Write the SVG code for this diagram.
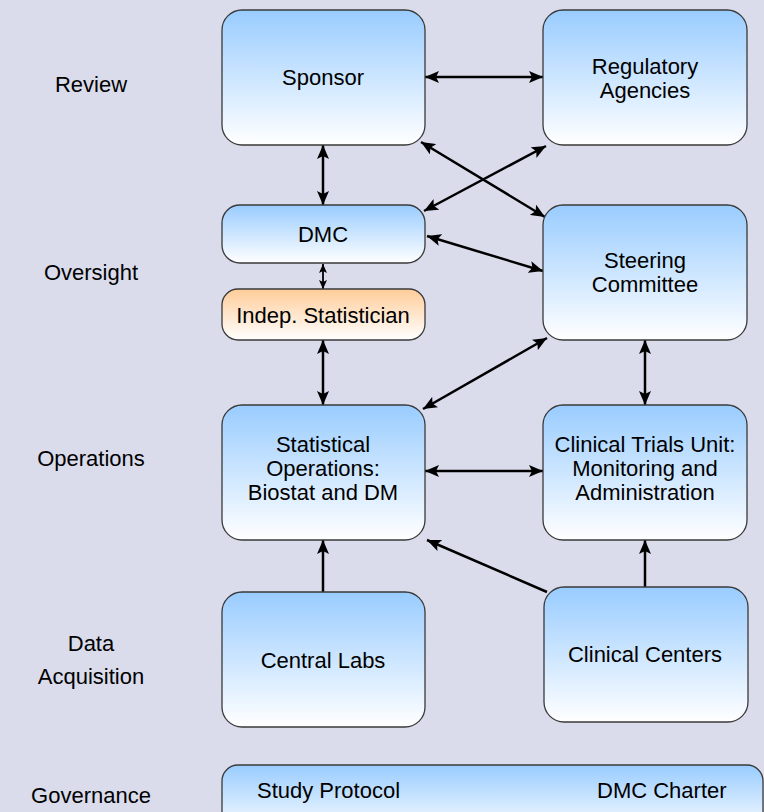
<svg xmlns="http://www.w3.org/2000/svg" width="764" height="812" viewBox="0 0 764 812">
  <defs>
    <linearGradient id="gBlue" x1="0" y1="0" x2="0" y2="1">
      <stop offset="0" stop-color="#99ccff"/>
      <stop offset="1" stop-color="#ffffff"/>
    </linearGradient>
    <linearGradient id="gOrange" x1="0" y1="0" x2="0" y2="1">
      <stop offset="0" stop-color="#ffcc99"/>
      <stop offset="1" stop-color="#ffffff"/>
    </linearGradient>
    <marker id="head" viewBox="0 0 14 12" refX="14" refY="6" markerWidth="14" markerHeight="12" markerUnits="userSpaceOnUse" orient="auto-start-reverse">
      <path d="M0,0 L14,6 L0,12 L3,6 z" fill="#000"/>
    </marker>
    <marker id="headSmall" viewBox="0 0 9 8" refX="9" refY="4" markerWidth="9" markerHeight="8" markerUnits="userSpaceOnUse" orient="auto-start-reverse">
      <path d="M0,0 L9,4 L0,8 L2,4 z" fill="#000"/>
    </marker>
  </defs>
  <style>
    .bg { fill: #dadcec; }
    .box { fill: url(#gBlue); stroke: #3a3a3a; stroke-width: 1.3; }
    .boxO { fill: url(#gOrange); stroke: #3a3a3a; stroke-width: 1.3; }
    text { font-family: "Liberation Sans", Arial, sans-serif; font-size: 22px; fill: #000; }
    .c { text-anchor: middle; dominant-baseline: central; }
    .link { stroke: #000; stroke-width: 2.5; fill: none; marker-start: url(#head); marker-end: url(#head); }
    .one { stroke: #000; stroke-width: 2.5; fill: none; marker-end: url(#head); }
    .small { stroke: #000; stroke-width: 1.8; fill: none; marker-start: url(#headSmall); marker-end: url(#headSmall); }
  </style>

  <rect class="bg" x="0" y="0" width="764" height="812"/>

  <!-- tier labels -->
  <g id="tier-labels">
    <text class="c" x="91" y="84">Review</text>
    <text class="c" x="91" y="272">Oversight</text>
    <text class="c" x="91" y="458">Operations</text>
    <text class="c" x="91" y="643">Data</text>
    <text class="c" x="91" y="676">Acquisition</text>
    <text class="c" x="91" y="795">Governance</text>
  </g>

  <!-- connectors -->
  <g id="connectors">
    <line class="link" x1="425" y1="77" x2="543" y2="77"/>
    <line class="link" x1="323" y1="145" x2="323" y2="205"/>
    <line class="link" x1="421" y1="142" x2="545" y2="217"/>
    <line class="link" x1="546" y1="146" x2="424" y2="211"/>
    <line class="link" x1="427" y1="236" x2="543" y2="271"/>
    <line class="small" x1="323" y1="264" x2="323" y2="289"/>
    <line class="link" x1="323" y1="340" x2="323" y2="405"/>
    <line class="link" x1="547" y1="338" x2="423" y2="409"/>
    <line class="link" x1="645" y1="340" x2="645" y2="405"/>
    <line class="link" x1="425" y1="471" x2="543" y2="471"/>
    <line class="one" x1="323" y1="592" x2="323" y2="540"/>
    <line class="one" x1="547" y1="592" x2="427" y2="540"/>
    <line class="one" x1="645" y1="588" x2="645" y2="540"/>
  </g>

  <!-- nodes -->
  <g id="sponsor">
    <rect class="box" x="222" y="10" width="203" height="135" rx="20"/>
    <text class="c" x="323" y="77">Sponsor</text>
  </g>
  <g id="regulatory-agencies">
    <rect class="box" x="543" y="10" width="204" height="135" rx="20"/>
    <text class="c" x="645" y="66">Regulatory</text>
    <text class="c" x="645" y="90">Agencies</text>
  </g>
  <g id="dmc">
    <rect class="box" x="222" y="205" width="203" height="58" rx="18"/>
    <text class="c" x="323" y="234">DMC</text>
  </g>
  <g id="indep-statistician">
    <rect class="boxO" x="222" y="289" width="203" height="51" rx="16"/>
    <text class="c" x="323" y="315">Indep. Statistician</text>
  </g>
  <g id="steering-committee">
    <rect class="box" x="543" y="205" width="204" height="135" rx="20"/>
    <text class="c" x="645" y="260">Steering</text>
    <text class="c" x="645" y="284">Committee</text>
  </g>
  <g id="statistical-operations">
    <rect class="box" x="222" y="405" width="203" height="135" rx="20"/>
    <text class="c" x="323" y="444">Statistical</text>
    <text class="c" x="323" y="468">Operations:</text>
    <text class="c" x="323" y="492">Biostat and DM</text>
  </g>
  <g id="clinical-trials-unit">
    <rect class="box" x="543" y="405" width="204" height="135" rx="20"/>
    <text class="c" x="645" y="444">Clinical Trials Unit:</text>
    <text class="c" x="645" y="468">Monitoring and</text>
    <text class="c" x="645" y="492">Administration</text>
  </g>
  <g id="central-labs">
    <rect class="box" x="222" y="592" width="203" height="135" rx="20"/>
    <text class="c" x="323" y="660">Central Labs</text>
  </g>
  <g id="clinical-centers">
    <rect class="box" x="544" y="587" width="204" height="135" rx="20"/>
    <text class="c" x="645" y="654">Clinical Centers</text>
  </g>
  <g id="governance-documents">
    <rect class="box" x="222" y="765" width="541" height="70" rx="16"/>
    <text x="257" y="798">Study Protocol</text>
    <text x="597" y="798">DMC Charter</text>
  </g>
</svg>
